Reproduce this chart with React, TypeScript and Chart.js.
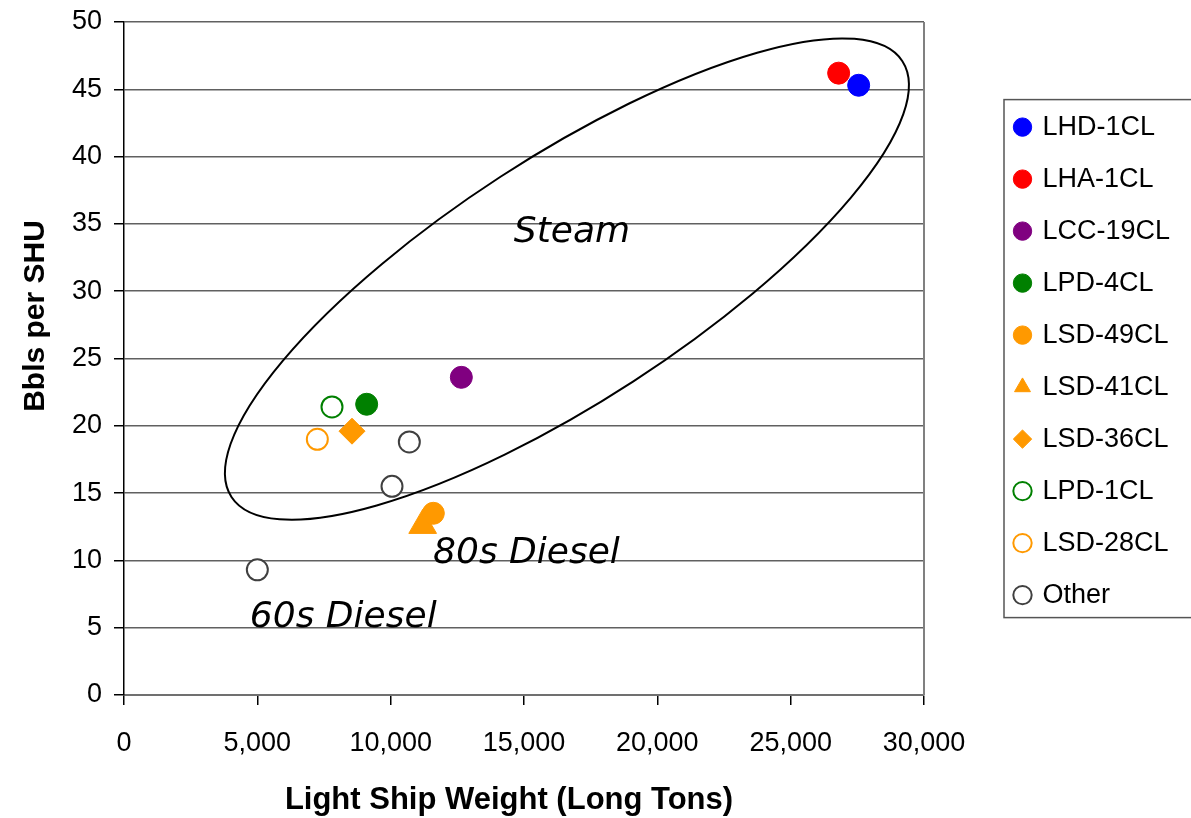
import React, { useEffect, useRef } from 'react';
import { Chart, registerables } from 'chart.js';

Chart.register(...registerables);

// ---- Data ----
const SERIES_NAMES = ['LHD-1CL', 'LHA-1CL', 'LCC-19CL', 'LPD-4CL', 'LSD-49CL', 'LSD-41CL', 'LSD-36CL', 'LPD-1CL', 'LSD-28CL', 'Other'];

const LHD_1CL_X = [27550];
const LHD_1CL_Y = [45.3];
const LHA_1CL_X = [26800];
const LHA_1CL_Y = [46.2];
const LCC_19CL_X = [12650];
const LCC_19CL_Y = [23.6];
const LPD_4CL_X = [9100];
const LPD_4CL_Y = [21.6];
const LSD_49CL_X = [11600];
const LSD_49CL_Y = [13.5];
const LSD_41CL_X = [11200];
const LSD_41CL_Y = [12.6];
const LSD_36CL_X = [8550];
const LSD_36CL_Y = [19.6];
const LPD_1CL_X = [7800];
const LPD_1CL_Y = [21.4];
const LSD_28CL_X = [7250];
const LSD_28CL_Y = [19.0];
const OTHER_X = [10700, 10050, 5000];
const OTHER_Y = [18.8, 15.5, 9.3];

const X_TICKS = [0, 5000, 10000, 15000, 20000, 25000, 30000];
const X_TICK_LABELS = ['0', '5,000', '10,000', '15,000', '20,000', '25,000', '30,000'];
const Y_TICKS = [0, 5, 10, 15, 20, 25, 30, 35, 40, 45, 50];
const Y_TICK_LABELS = ['0', '5', '10', '15', '20', '25', '30', '35', '40', '45', '50'];

const X_TITLE = 'Light Ship Weight (Long Tons)';
const Y_TITLE = 'Bbls per SHU';

// annotation labels: text, x value (left edge), y value (baseline)
const NOTE_TEXTS = ['Steam', '80s Diesel', '60s Diesel'];
const NOTE_X = [14620, 11590, 4720];
const NOTE_Y = [33.65, 9.8, 5.05];

// ellipse around the "Steam" group: centre in data units
const ELLIPSE_CX = 16610;
const ELLIPSE_CY = 30.9;

const pts = (xs: number[], ys: number[]) => xs.map((x, i) => ({ x, y: ys[i] }));

const W = 1191;
const H = 818;

export default function App() {
  const ref = useRef<HTMLCanvasElement | null>(null);

  useEffect(() => {
    document.body.style.margin = '0';
    const canvas = ref.current;
    if (!canvas) return;

    const filled = (label: string, color: string, data: any[], style: any = 'circle', radius = 11) => ({
      label,
      data,
      pointStyle: style,
      backgroundColor: color,
      borderColor: color,
      borderWidth: 1,
      pointRadius: radius,
      pointHoverRadius: radius,
    });
    const hollow = (label: string, color: string, data: any[]) => ({
      label,
      data,
      pointStyle: 'circle',
      backgroundColor: '#ffffff',
      borderColor: color,
      borderWidth: 2,
      pointRadius: 10.5,
      pointHoverRadius: 10.5,
    });

    const datasets = [
      filled(SERIES_NAMES[0], '#0000ff', pts(LHD_1CL_X, LHD_1CL_Y)),
      filled(SERIES_NAMES[1], '#ff0000', pts(LHA_1CL_X, LHA_1CL_Y)),
      filled(SERIES_NAMES[2], '#800080', pts(LCC_19CL_X, LCC_19CL_Y)),
      filled(SERIES_NAMES[3], '#008000', pts(LPD_4CL_X, LPD_4CL_Y)),
      filled(SERIES_NAMES[4], '#ff9900', pts(LSD_49CL_X, LSD_49CL_Y)),
      filled(SERIES_NAMES[5], '#ff9900', pts(LSD_41CL_X, LSD_41CL_Y), 'triangle', 16),
      filled(SERIES_NAMES[6], '#ff9900', pts(LSD_36CL_X, LSD_36CL_Y), 'rectRot', 13),
      hollow(SERIES_NAMES[7], '#008000', pts(LPD_1CL_X, LPD_1CL_Y)),
      hollow(SERIES_NAMES[8], '#ff9900', pts(LSD_28CL_X, LSD_28CL_Y)),
      hollow(SERIES_NAMES[9], '#404040', pts(OTHER_X, OTHER_Y)),
    ];

    const decor = {
      id: 'decor',
      beforeInit(chart: any) {
        const lg = chart.legend;
        if (lg) {
          const orig = lg.fit;
          lg.fit = function () {
            orig.call(this);
            this.width = 200;
          };
        }
      },
      beforeDatasetsDraw(chart: any) {
        const { ctx, chartArea: a, scales } = chart;
        ctx.save();
        // plot-area right border
        ctx.strokeStyle = '#808080';
        ctx.lineWidth = 2;
        ctx.beginPath();
        ctx.moveTo(a.right, a.top);
        ctx.lineTo(a.right, a.bottom);
        ctx.stroke();
        // ellipse
        const cx = scales.x.getPixelForValue(ELLIPSE_CX);
        const cy = scales.y.getPixelForValue(ELLIPSE_CY);
        ctx.strokeStyle = '#000000';
        ctx.lineWidth = 2;
        ctx.beginPath();
        ctx.ellipse(cx, cy, 400, 122, (-33 * Math.PI) / 180, 0, Math.PI * 2);
        ctx.stroke();
        // notes
        ctx.fillStyle = '#000000';
        ctx.font = 'italic 36px "DejaVu Sans"';
        ctx.textAlign = 'left';
        ctx.textBaseline = 'alphabetic';
        NOTE_TEXTS.forEach((t, i) => {
          ctx.fillText(t, scales.x.getPixelForValue(NOTE_X[i]), scales.y.getPixelForValue(NOTE_Y[i]));
        });
        ctx.restore();
      },
      afterDraw(chart: any) {
        const { ctx } = chart;
        ctx.save();
        // axis titles
        ctx.fillStyle = '#000000';
        ctx.font = 'bold 31px "Liberation Sans", Arial, sans-serif';
        ctx.textAlign = 'center';
        ctx.textBaseline = 'alphabetic';
        ctx.fillText(X_TITLE, 509, 809);
        ctx.translate(44, 316);
        ctx.rotate(-Math.PI / 2);
        ctx.font = 'bold 30px "Liberation Sans", Arial, sans-serif';
        ctx.fillText(Y_TITLE, 0, 0);
        ctx.restore();
        // legend frame
        const lg = chart.legend;
        const hb = lg && lg.legendHitBoxes;
        if (hb && hb.length) {
          const first = hb[0];
          const last = hb[hb.length - 1];
          const left = lg.left + 13;
          const top = first.top - 14;
          const bottom = last.top + last.height + 9;
          ctx.save();
          ctx.strokeStyle = '#555555';
          ctx.lineWidth = 1.5;
          ctx.strokeRect(left, top, W + 10 - left, bottom - top);
          ctx.restore();
        }
      },
    };

    const tickFont = { family: '"Liberation Sans", Arial, sans-serif', size: 27 };

    const chart = new Chart(canvas, {
      type: 'scatter',
      data: { datasets },
      options: {
        responsive: false,
        animation: false,
        devicePixelRatio: 1,
        layout: { padding: { top: 22, left: 0, right: 0, bottom: 0 } },
        plugins: {
          tooltip: { enabled: false },
          legend: {
            position: 'right',
            fullSize: false,
            title: { display: true, text: '', font: { size: 1 }, padding: { top: 0, bottom: 4 } },
            labels: {
              usePointStyle: true,
              boxWidth: 13,
              boxHeight: 13,
              padding: 25,
              color: '#000000',
              font: { family: '"Liberation Sans", Arial, sans-serif', size: 27 },
            },
          },
        },
        scales: {
          x: {
            type: 'linear',
            min: 0,
            max: 30000,
            afterBuildTicks: (s: any) => {
              s.ticks = X_TICKS.map((v) => ({ value: v }));
            },
            afterFit: (s: any) => {
              s.height = 123;
            },
            ticks: {
              color: '#000000',
              font: tickFont,
              padding: 22,
              maxRotation: 0,
              autoSkip: false,
              callback: (_v: any, i: number) => X_TICK_LABELS[i],
            },
            grid: { drawOnChartArea: false, drawTicks: true, tickLength: 10, color: '#000000', tickColor: '#000000', lineWidth: 1.5 },
            border: { display: true, color: '#707070', width: 2 },
          },
          y: {
            type: 'linear',
            min: 0,
            max: 50,
            afterBuildTicks: (s: any) => {
              s.ticks = Y_TICKS.map((v) => ({ value: v }));
            },
            afterFit: (s: any) => {
              s.width = 124;
              s.paddingTop = 0;
              s.paddingBottom = 0;
            },
            ticks: {
              color: '#000000',
              font: tickFont,
              padding: 12,
              autoSkip: false,
              callback: (_v: any, i: number) => Y_TICK_LABELS[i],
            },
            grid: { color: '#606060', lineWidth: 1.5, tickLength: 10, tickColor: '#000000' },
            border: { display: true, color: '#000000', width: 1.5 },
          },
          gap: {
            type: 'linear',
            position: 'right',
            display: true,
            grid: { display: false },
            border: { display: false },
            ticks: { display: false },
            afterFit: (s: any) => {
              s.width = 67;
              s.paddingTop = 0;
              s.paddingBottom = 0;
            },
          },
        },
      } as any,
      plugins: [decor],
    });

    return () => chart.destroy();
  }, []);

  return (
    <div style={{ width: W, height: H, background: '#ffffff' }}>
      <canvas ref={ref} width={W} height={H} style={{ display: 'block' }} />
    </div>
  );
}
